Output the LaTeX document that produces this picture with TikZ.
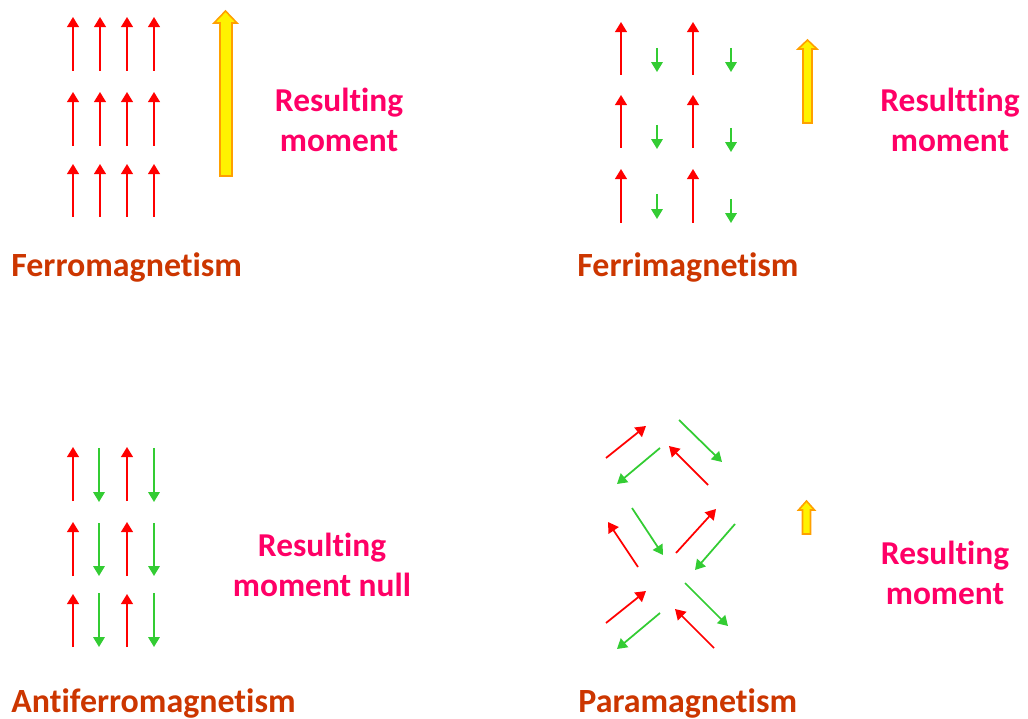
\documentclass[tikz,border=0pt]{standalone}
\usepackage{fontspec}
\setmainfont{Carlito}[Ligatures=NoCommon]
\usetikzlibrary{arrows.meta}
\definecolor{titleorange}{RGB}{204,54,0}
\definecolor{momentpink}{RGB}{255,0,102}
\definecolor{spingreen}{RGB}{51,204,51}
\definecolor{blockedge}{RGB}{255,160,0}
\tikzset{
  spinred/.style={draw=red, line width=1pt, -{Triangle[width=6.8pt,length=5.8pt]}},
  spingrn/.style={draw=spingreen, line width=1pt, -{Triangle[width=6.5pt,length=5.6pt]}},
  title/.style={anchor=base west, text=titleorange, font=\fontsize{19.3}{23}\selectfont\bfseries, inner sep=0pt},
  moment/.style={text=momentpink, align=center, font=\fontsize{19}{22.7}\selectfont\bfseries, inner sep=0pt},
  block/.style={fill=yellow, draw=blockedge, line width=0.9pt, line join=miter}
}

\begin{document}
\begin{tikzpicture}[x=0.02cm, y=-0.02cm]
  \useasboundingbox (0,0) rectangle (1028,719);
  %
  % ferromagnetism
  \foreach \x in {73,100,127,154}
    \foreach \y/\t in {71/17, 146/92, 217/164}
      \draw[spinred] (\x,\y) -- (\x,\t);
  \draw[block] (220,176) -- (220,23) -- (214,23) -- (225.5,11) -- (237,23) -- (232,23) -- (232,176) -- cycle;
  \node[moment] (ferromom) at (339,120) {Resulting\\moment};
  \node[title] (ferro) at (11,277) {Ferromagnetism};
  %
  % ferrimagnetism
  \foreach \x in {621,693}
    \foreach \y/\t in {75/22, 148/95, 223/169}
      \draw[spinred] (\x,\y) -- (\x,\t);
  \foreach \y/\t in {48/72, 125/149, 194/219}
    \draw[spingrn] (657,\y) -- (657,\t);
  \foreach \y/\t in {48/72, 128/152, 199/223}
    \draw[spingrn] (731,\y) -- (731,\t);
  \draw[block] (803,123) -- (803,49) -- (798,49) -- (807.5,40) -- (817,49) -- (812,49) -- (812,123) -- cycle;
  \node[moment] (ferrimom) at (950,120) {Resultting\\moment};
  \node[title] (ferri) at (577,277) {Ferrimagnetism};
  %
  % antiferromagnetism
  \foreach \x in {73,127}
    \foreach \y/\t in {501/447, 576/522, 647/594}
      \draw[spinred] (\x,\y) -- (\x,\t);
  \foreach \x in {99,154}
    \foreach \y/\t in {448/502, 523/576, 593/647}
      \draw[spingrn] (\x,\y) -- (\x,\t);
  \node[moment] (antimom) at (322,565) {Resulting\\moment null};
  \node[title] (anti) at (11,712) {Antiferromagnetism};
  %
  % paramagnetism
  \foreach \a/\b/\c/\d in {606/458/646/426, 708/485/669/446, 638/567/608/522,
      676/553/716/509, 606/623/646/591, 714/648/675/609}
    \draw[spinred] (\a,\b) -- (\c,\d);
  \foreach \a/\b/\c/\d in {679/420/722/462, 660/448/617/484, 632/508/663/555,
      735/524/695/570, 660/613/617/649, 685/583/728/626}
    \draw[spingrn] (\a,\b) -- (\c,\d);
  \draw[block] (802.5,534) -- (802.5,510) -- (798.5,510) -- (806.5,501) -- (814.5,510) -- (810.5,510) -- (810.5,534) -- cycle;
  \node[moment] (paramom) at (945,573) {Resulting\\moment};
  \node[title] (para) at (578,712) {Paramagnetism};
  %
\end{tikzpicture}
\end{document}
